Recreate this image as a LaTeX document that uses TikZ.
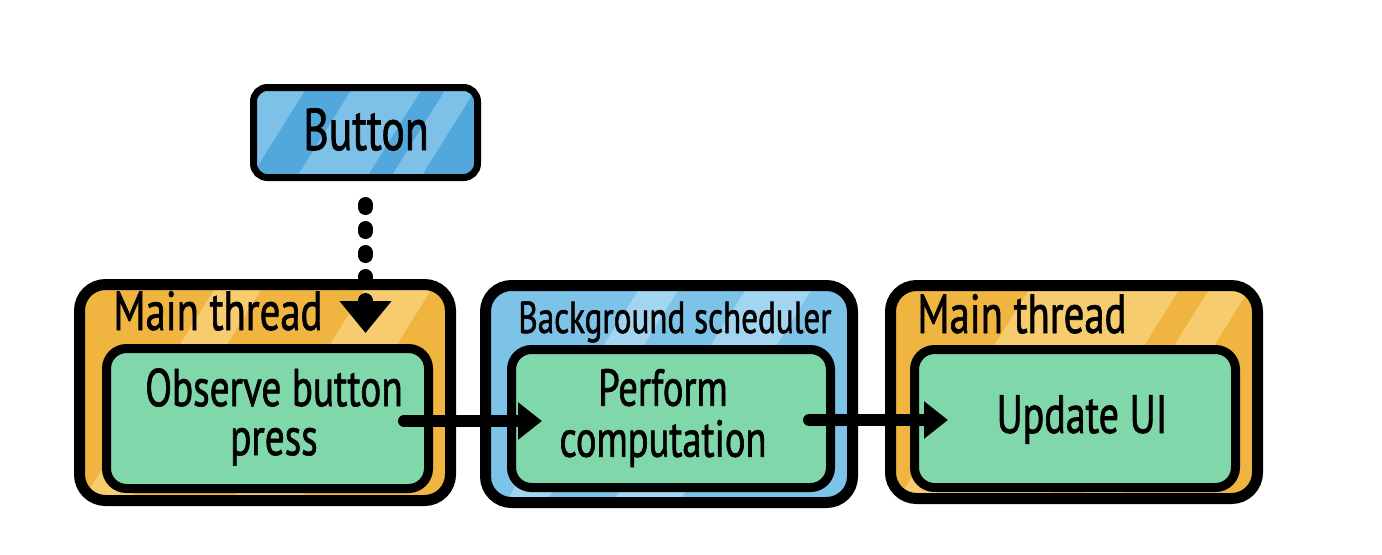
\documentclass[tikz,border=0pt]{standalone}
\usepackage{fontspec}
\setmainfont[FakeStretch=0.74,FakeBold=1.2]{PT Sans}
\usetikzlibrary{arrows.meta}
\definecolor{orng}{HTML}{F0B441}
\definecolor{orngl}{HTML}{F6CC6E}
\definecolor{bluem}{HTML}{7DC2E7}
\definecolor{bluel}{HTML}{A3D5F0}
\definecolor{btnc}{HTML}{52A8DD}
\definecolor{btnl}{HTML}{7DC1E8}
\definecolor{grn}{HTML}{80D7A9}
\newcommand\mybands[2]{\foreach \s/\w in {#2}{\fill[#1] ([xshift=\s pt,yshift=-20pt]path picture bounding box.south west) -- ++(\w pt,0) -- ++(100pt,160pt) -- ++(-\w pt,0) -- cycle;}}
\begin{document}
\begin{tikzpicture}[x=0.5pt,y=-0.5pt,
 outerbox/.style={draw=black, line width=5.5pt, rounded corners=13pt, inner sep=0pt},
 innerbox/.style={draw=black, line width=4.5pt, rounded corners=10pt, fill=grn, inner sep=0pt},
 lbl/.style={inner sep=0pt, anchor=base west},
 txt/.style={inner sep=0pt, align=center},
 flow/.style={line width=6pt, line cap=round, -{Triangle[length=12pt,width=18pt]}},
 dots/.style={line width=7.5pt, line cap=round, dash pattern=on 1.5pt off 10.5pt, -{Triangle[length=16pt,width=25pt]}},
]
\useasboundingbox[fill=white] (0,0) rectangle (1382,554);

% Button
\node[draw=black, line width=3.5pt, rounded corners=7pt, fill=btnc, inner sep=0pt,
      minimum width=112pt, minimum height=45pt,
      path picture={\mybands{btnl}{-37.5/23.5,9/35,56/15}}] (btn) at (365.5,132.5) {};
\node[inner sep=0pt, anchor=base, font=\fontsize{29.5}{32}\selectfont] (btnt) at (366,150) {Button};

% Left main thread
\node[outerbox, fill=orng, minimum width=185.5pt, minimum height=108pt,
      path picture={\mybands{orngl}{-11/23.5,64/33.5}}] (mt1) at (265,392.5) {};
\node[lbl, font=\fontsize{27.5}{30}\selectfont] (mt1l) at (113,330) {Main thread};
\node[innerbox, minimum width=161pt, minimum height=70pt] (obs) at (267.5,418.5) {};
\node[txt, font=\fontsize{26.5}{24.5}\selectfont] (obst) at (274,417) {Observe button\\press};

% Background scheduler
\node[outerbox, fill=bluem, minimum width=183.5pt, minimum height=108.5pt,
      path picture={\mybands{bluel}{-2.5/20,51/33}}] (bg) at (669,394) {};
\node[lbl, font=\fontsize{22.4}{24}\selectfont] (bgl) at (518,333) {Background scheduler};
\node[innerbox, minimum width=159.5pt, minimum height=69pt] (perf) at (671,418.5) {};
\node[txt, font=\fontsize{26}{25.5}\selectfont] (perft) at (663,418) {Perform\\computation};

% Right main thread
\node[outerbox, fill=orng, minimum width=183.5pt, minimum height=106.5pt,
      path picture={\mybands{orngl}{-8.5/75,81.5/20}}] (mt2) at (1074,392) {};
\node[lbl, font=\fontsize{27.5}{30}\selectfont] (mt2l) at (917,333) {Main thread};
\node[innerbox, minimum width=160.5pt, minimum height=69pt] (upd) at (1075,418.5) {};
\node[inner sep=0pt, anchor=base, font=\fontsize{27}{30}\selectfont] (updt) at (1082,433) {Update UI};

% Connectors
\draw[flow] ([xshift=-14.5pt,yshift=-1.25pt]obs.east) -- ([xshift=17.5pt,yshift=-1.25pt]perf.west);
\draw[flow] ([xshift=-13pt,yshift=-0.75pt]perf.east) -- ([xshift=19pt,yshift=-0.75pt]upd.west);
\coordinate (tipA) at (365.5,333);
\draw[dots, shorten <=11.75pt] (btn.south) -- (tipA);
\end{tikzpicture}
\end{document}
